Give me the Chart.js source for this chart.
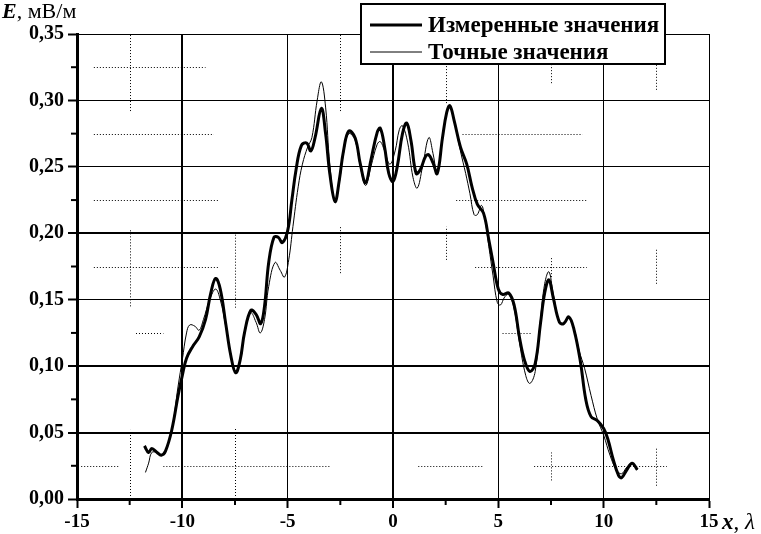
<!DOCTYPE html>
<html>
<head>
<meta charset="utf-8">
<script src="https://cdn.jsdelivr.net/npm/chart.js@4/dist/chart.umd.min.js"></script>
<style>
  body { margin: 0; background: #fff; }
</style>
</head>
<body>
<canvas id="graph" width="761" height="534"></canvas>
<script>
// 凡例ラベル
const SERIES_LABELS = ['Измеренные значения', 'Точные значения'];

// измеренные значения (x, λ / E, мВ/м)
const measuredX = [-11.8, -11.6, -11.45, -11.2, -11.0, -10.8, -10.5, -10.2, -10.0, -9.8, -9.5, -9.2, -8.9, -8.65, -8.42, -8.2, -7.94, -7.7, -7.47, -7.25, -7.05, -6.75, -6.5, -6.28, -6.1, -5.9, -5.65, -5.45, -5.25, -5.0, -4.8, -4.6, -4.35, -4.1, -3.9, -3.7, -3.4, -3.2, -3.0, -2.75, -2.55, -2.35, -2.1, -1.8, -1.55, -1.3, -1.05, -0.75, -0.6, -0.4, -0.2, 0.0, 0.2, 0.45, 0.65, 0.85, 1.1, 1.3, 1.55, 1.7, 1.9, 2.1, 2.35, 2.55, 2.7, 2.9, 3.2, 3.5, 3.75, 4.0, 4.3, 4.55, 4.75, 5.0, 5.2, 5.5, 5.75, 6.0, 6.25, 6.5, 6.75, 7.0, 7.2, 7.4, 7.6, 7.9, 8.1, 8.35, 8.6, 8.9, 9.15, 9.4, 9.7, 10.0, 10.2, 10.45, 10.7, 10.85, 11.1, 11.35, 11.6];
const measuredY = [0.040, 0.035, 0.038, 0.035, 0.033, 0.036, 0.052, 0.078, 0.093, 0.106, 0.115, 0.122, 0.135, 0.155, 0.166, 0.158, 0.132, 0.108, 0.095, 0.105, 0.125, 0.142, 0.139, 0.132, 0.145, 0.178, 0.197, 0.197, 0.193, 0.202, 0.225, 0.248, 0.266, 0.268, 0.262, 0.272, 0.294, 0.275, 0.245, 0.224, 0.240, 0.262, 0.277, 0.272, 0.252, 0.238, 0.255, 0.276, 0.279, 0.265, 0.245, 0.239, 0.250, 0.275, 0.283, 0.270, 0.245, 0.248, 0.258, 0.259, 0.253, 0.245, 0.272, 0.291, 0.296, 0.285, 0.265, 0.252, 0.235, 0.222, 0.215, 0.195, 0.178, 0.158, 0.154, 0.155, 0.146, 0.122, 0.104, 0.096, 0.102, 0.132, 0.155, 0.165, 0.152, 0.133, 0.132, 0.137, 0.127, 0.103, 0.075, 0.062, 0.059, 0.053, 0.045, 0.030, 0.018, 0.016, 0.022, 0.027, 0.022];

// точные значения
const exactX = [-11.75, -11.6, -11.45, -11.2, -11.0, -10.8, -10.5, -10.2, -10.0, -9.8, -9.65, -9.4, -9.2, -9.0, -8.7, -8.42, -8.2, -7.94, -7.7, -7.47, -7.25, -7.05, -6.75, -6.5, -6.3, -6.1, -5.9, -5.6, -5.35, -5.15, -4.95, -4.75, -4.5, -4.3, -4.05, -3.85, -3.6, -3.4, -3.2, -3.0, -2.75, -2.55, -2.35, -2.1, -1.8, -1.55, -1.3, -1.05, -0.75, -0.6, -0.4, -0.15, 0.1, 0.3, 0.45, 0.7, 0.95, 1.15, 1.4, 1.7, 1.9, 2.1, 2.35, 2.55, 2.7, 2.9, 3.2, 3.45, 3.65, 3.85, 4.0, 4.2, 4.35, 4.55, 4.75, 4.95, 5.1, 5.3, 5.5, 5.75, 6.0, 6.3, 6.5, 6.75, 7.0, 7.2, 7.4, 7.6, 7.9, 8.1, 8.35, 8.6, 8.83, 9.1, 9.4, 9.7, 10.0, 10.3, 10.6, 10.85, 11.1, 11.35, 11.6];
const exactY = [0.020, 0.027, 0.035, 0.035, 0.033, 0.036, 0.052, 0.085, 0.105, 0.125, 0.131, 0.130, 0.127, 0.135, 0.150, 0.158, 0.150, 0.130, 0.108, 0.096, 0.104, 0.124, 0.140, 0.133, 0.125, 0.135, 0.160, 0.178, 0.172, 0.167, 0.180, 0.205, 0.235, 0.252, 0.265, 0.272, 0.300, 0.314, 0.295, 0.252, 0.223, 0.238, 0.260, 0.275, 0.270, 0.250, 0.236, 0.250, 0.267, 0.269, 0.262, 0.252, 0.262, 0.278, 0.281, 0.268, 0.242, 0.234, 0.250, 0.272, 0.260, 0.245, 0.272, 0.291, 0.296, 0.285, 0.262, 0.245, 0.230, 0.214, 0.214, 0.221, 0.212, 0.190, 0.168, 0.148, 0.146, 0.152, 0.154, 0.143, 0.118, 0.093, 0.087, 0.096, 0.135, 0.162, 0.171, 0.155, 0.133, 0.132, 0.136, 0.128, 0.112, 0.098, 0.078, 0.060, 0.048, 0.033, 0.022, 0.019, 0.024, 0.027, 0.022];

// 目盛り
const X_MIN = -15, X_MAX = 15, X_STEP = 5;
const Y_MIN = 0, Y_MAX = 0.35, Y_STEP = 0.05;

// 点線の補助線 (元図の断片) [y, x1, x2] / [x, y1, y2]
const dottedH = [
  [0.325, -14.2, -8.9],
  [0.275, -14.2, -8.5], [0.275, 3.3, 9.0],
  [0.225, -14.2, -8.3], [0.225, 3.0, 9.2],
  [0.175, -14.2, -8.3], [0.175, 3.9, 9.2],
  [0.125, -12.2, -10.9], [0.125, 5.2, 6.6],
  [0.025, -14.8, -13.0], [0.025, -10.9, -3.0], [0.025, 1.2, 4.3], [0.025, 6.7, 13.0]
];
const dottedV = [
  [-12.5, 0.292, 0.35], [-12.5, 0.145, 0.203], [-12.5, 0, 0.052],
  [-7.5, 0.144, 0.2], [-7.5, 0, 0.054],
  [-2.5, 0.292, 0.35], [-2.5, 0.17, 0.205],
  [2.5, 0.298, 0.345], [2.5, 0.18, 0.205],
  [7.5, 0.313, 0.345], [7.5, 0.167, 0.182], [7.5, 0.014, 0.035],
  [12.5, 0.308, 0.335], [12.5, 0.162, 0.188], [12.5, 0.01, 0.039]
];

const SERIF = '"Liberation Serif", "Times New Roman", serif';

function toPoints(xs, ys) {
  return xs.map(function(x, i) { return {x: x, y: ys[i]}; });
}

/*
  補助描画 (点線・副目盛り・軸タイトル・凡例)
*/
const extrasPlugin = {
  id: 'extras',
  beforeDatasetsDraw(chart) {
    const ctx = chart.ctx;
    const xs = chart.scales.x, ys = chart.scales.y;
    ctx.save();
    ctx.strokeStyle = '#000';
    ctx.lineWidth = 1;
    ctx.setLineDash([1, 2]);
    dottedH.forEach(function(s) {
      const py = Math.round(ys.getPixelForValue(s[0])) + 0.5;
      ctx.beginPath();
      ctx.moveTo(xs.getPixelForValue(s[1]), py);
      ctx.lineTo(xs.getPixelForValue(s[2]), py);
      ctx.stroke();
    });
    dottedV.forEach(function(s) {
      const px = Math.round(xs.getPixelForValue(s[0])) + 0.5;
      ctx.beginPath();
      ctx.moveTo(px, ys.getPixelForValue(s[1]));
      ctx.lineTo(px, ys.getPixelForValue(s[2]));
      ctx.stroke();
    });
    ctx.restore();
  },
  afterDraw(chart) {
    const ctx = chart.ctx;
    const xs = chart.scales.x, ys = chart.scales.y;
    const area = chart.chartArea;
    ctx.save();
    ctx.strokeStyle = '#000';
    ctx.fillStyle = '#000';
    ctx.lineWidth = 2;

    // 副目盛り
    for (let v = Y_MIN + Y_STEP / 2; v < Y_MAX; v += Y_STEP) {
      const py = ys.getPixelForValue(v);
      ctx.beginPath();
      ctx.moveTo(area.left - 6, py);
      ctx.lineTo(area.left, py);
      ctx.stroke();
    }
    for (let v = X_MIN + X_STEP / 2; v < X_MAX; v += X_STEP) {
      const px = xs.getPixelForValue(v);
      ctx.beginPath();
      ctx.moveTo(px, area.bottom);
      ctx.lineTo(px, area.bottom + 6);
      ctx.stroke();
    }

    // 軸タイトル
    ctx.textBaseline = 'alphabetic';
    ctx.textAlign = 'left';
    let tx = 2;
    ctx.font = 'italic bold 22px ' + SERIF;
    ctx.fillText('E', tx, 18);
    tx += ctx.measureText('E').width;
    ctx.font = '22px ' + SERIF;
    ctx.fillText(', мВ/м', tx, 18);

    tx = xs.getPixelForValue(X_MAX) + 13;
    ctx.font = 'italic bold 23px ' + SERIF;
    ctx.fillText('x', tx, 529);
    tx += ctx.measureText('x').width;
    ctx.font = '23px ' + SERIF;
    ctx.fillText(', ', tx, 529);
    tx += ctx.measureText(', ').width;
    ctx.font = 'italic 23px ' + SERIF;
    ctx.fillText('λ', tx, 529);

    // 凡例
    const box = {left: 361, top: 4, right: 665, bottom: 64};
    ctx.fillStyle = '#fff';
    ctx.fillRect(box.left, box.top, box.right - box.left, box.bottom - box.top);
    ctx.lineWidth = 2;
    ctx.strokeRect(box.left, box.top, box.right - box.left, box.bottom - box.top);
    ctx.fillStyle = '#000';
    ctx.font = 'bold 23px ' + SERIF;
    ctx.textBaseline = 'middle';
    const rows = [25, 52];
    chart.data.datasets.forEach(function(ds, i) {
      ctx.lineWidth = ds.borderWidth;
      ctx.beginPath();
      ctx.moveTo(370, rows[i]);
      ctx.lineTo(422, rows[i]);
      ctx.stroke();
      ctx.fillText(ds.label, 428, rows[i] + 1);
    });
    ctx.restore();
  }
};

new Chart(document.getElementById('graph'), {
  type: 'line',
  data: {
    datasets: [
      {
        label: SERIES_LABELS[0],
        data: toPoints(measuredX, measuredY),
        borderColor: '#000',
        borderWidth: 3,
        pointRadius: 0,
        tension: 0.4,
        fill: false
      },
      {
        label: SERIES_LABELS[1],
        data: toPoints(exactX, exactY),
        borderColor: '#000',
        borderWidth: 1,
        pointRadius: 0,
        tension: 0.4,
        fill: false
      }
    ]
  },
  options: {
    responsive: false,
    devicePixelRatio: 1,
    animation: false,
    layout: { padding: { top: 34, right: 52, left: 0, bottom: 0 } },
    plugins: {
      legend: { display: false },
      tooltip: { enabled: false }
    },
    scales: {
      x: {
        type: 'linear',
        min: X_MIN,
        max: X_MAX,
        afterFit: function(scale) { scale.height = 35; },
        ticks: {
          stepSize: X_STEP,
          maxRotation: 0,
          padding: 3,
          color: '#000',
          font: { family: SERIF, size: 19, weight: 'bold' },
          callback: function(v) { return String(v); }
        },
        grid: {
          color: '#000',
          lineWidth: function(c) { return (c.tick && (c.tick.value === -10 || c.tick.value === 0)) ? 2 : 1; },
          tickLength: 9,
          tickWidth: 2
        },
        border: { color: '#000', width: 3 }
      },
      y: {
        min: Y_MIN,
        max: Y_MAX,
        afterFit: function(scale) { scale.width = 77; },
        ticks: {
          stepSize: Y_STEP,
          padding: 4,
          color: '#000',
          font: { family: SERIF, size: 20, weight: 'bold' },
          callback: function(v) { return v.toFixed(2).replace('.', ','); }
        },
        grid: {
          color: '#000',
          lineWidth: function(c) {
            const v = c.tick ? Math.round(c.tick.value * 100) : -1;
            return (v === 5 || v === 10 || v === 20) ? 2 : 1;
          },
          tickLength: 9,
          tickWidth: 2
        },
        border: { color: '#000', width: 3 }
      }
    }
  },
  plugins: [extrasPlugin]
});
</script>
</body>
</html>
